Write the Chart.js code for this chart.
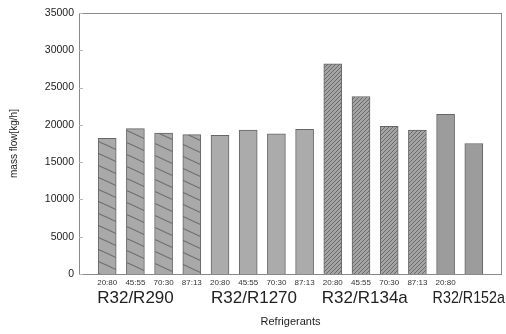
<!DOCTYPE html>
<html><head><meta charset="utf-8">
<script src="https://cdn.jsdelivr.net/npm/chart.js@4/dist/chart.umd.min.js"></script>
<style>html,body{margin:0;padding:0;background:#fff}#wrap{width:506px;height:334px}</style>
</head><body><div id="wrap"><canvas id="c" width="506" height="334"></canvas></div>
<script>
const ratios = ['20:80','45:55','70:30','87:13','20:80','45:55','70:30','87:13','20:80','45:55','70:30','87:13','20:80',''];
const massFlow = [18200,19500,18900,18700, 18600,19300,18800,19400, 28200,23800,19800,19300, 21400,17500];
const groupNames = ['R32/R290','R32/R1270','R32/R134a','R32/R152a'];
const groupStart = [0,4,8,12];
const groupOf = [0,0,0,0,1,1,1,1,2,2,2,2,3,3];
const yTicks = [0,5000,10000,15000,20000,25000,30000,35000];

function makePattern(kind){
  const c = document.createElement('canvas');
  const ctx = c.getContext('2d');
  if(kind==='wide'){
    c.width=26;c.height=12;
    ctx.fillStyle='#a9a9a9';ctx.fillRect(0,0,26,12);
    ctx.strokeStyle='#6a6a6a';ctx.lineWidth=1.1;
    for(const dy of [-12,0,12]){ctx.beginPath();ctx.moveTo(0,dy);ctx.lineTo(26,dy+12);ctx.stroke();}
  } else if(kind==='dense'){
    c.width=4;c.height=4;
    ctx.fillStyle='#a4a4a4';ctx.fillRect(0,0,4,4);
    ctx.strokeStyle='#6a6a6a';ctx.lineWidth=1;
    for(const dx of [-4,0,4]){ctx.beginPath();ctx.moveTo(dx,4);ctx.lineTo(dx+4,0);ctx.stroke();}
  }
  return c.getContext('2d').createPattern(c,'repeat');
}
const fills = [makePattern('wide'), '#ababab', makePattern('dense'), '#9c9c9c'];

const labels = [''].concat(ratios).concat(['']);
const data = [null].concat(massFlow).concat([null]);
const bg = [null].concat(groupOf.map(g=>fills[g])).concat([null]);
const labelShift = [-10,-9,-11,-13];

const extra = {
  id:'extra',
  afterDraw(chart){
    const ctx = chart.ctx, a = chart.chartArea, xs = chart.scales.x;
    ctx.save();
    ctx.strokeStyle='#8a8a8a';ctx.lineWidth=1;
    ctx.strokeRect(a.left+0.5,a.top+0.5,a.right-a.left-1,a.bottom-a.top);
    const ys = chart.scales.y;
    ctx.strokeStyle='#b8b8b8';
    yTicks.forEach(v=>{const y=Math.round(ys.getPixelForValue(v))+0.5;ctx.beginPath();ctx.moveTo(a.left,y);ctx.lineTo(a.left+4,y);ctx.stroke();});
    ctx.fillStyle='#222';
    ctx.font='17px "Liberation Sans", Arial, sans-serif';
    ctx.textBaseline='middle';ctx.textAlign='left';
    groupNames.forEach((n,i)=>{
      const x = xs.getPixelForValue(groupStart[i]+1) + labelShift[i];
      ctx.fillText(n,x,298,chart.width-x-1);
    });
    ctx.restore();
  }
};

new Chart(document.getElementById('c'),{
  type:'bar',
  data:{labels:labels,datasets:[{data:data,backgroundColor:bg,borderColor:'#666',borderWidth:1,barThickness:18}]},
  options:{
    responsive:false,animation:false,
    layout:{padding:{top:13,right:3,left:0,bottom:0}},
    plugins:{legend:{display:false},tooltip:{enabled:false}},
    scales:{
      x:{offset:false,
        grid:{display:false,drawTicks:false},
        border:{display:false},
        ticks:{color:'#333',font:{family:'"Liberation Sans", Arial, sans-serif',size:8},padding:4,maxRotation:0,autoSkip:false},
        title:{display:true,text:'Refrigerants',color:'#222',font:{family:'"Liberation Sans", Arial, sans-serif',size:11},padding:{top:0,bottom:5}},
        afterFit(s){s.height=60;}
      },
      y:{min:0,max:35000,
        afterBuildTicks(s){s.ticks=yTicks.map(v=>({value:v}));},
        grid:{display:false,drawTicks:false},
        border:{display:false},
        ticks:{color:'#222',font:{family:'"Liberation Sans", Arial, sans-serif',size:10.5},padding:5,callback:v=>String(v)},
        title:{display:true,text:'mass flow[kg/h]',color:'#222',font:{family:'"Liberation Sans", Arial, sans-serif',size:10},padding:{top:8,bottom:0}},
        afterFit(s){s.width=79;}
      }
    }
  },
  plugins:[extra]
});
</script></body></html>
